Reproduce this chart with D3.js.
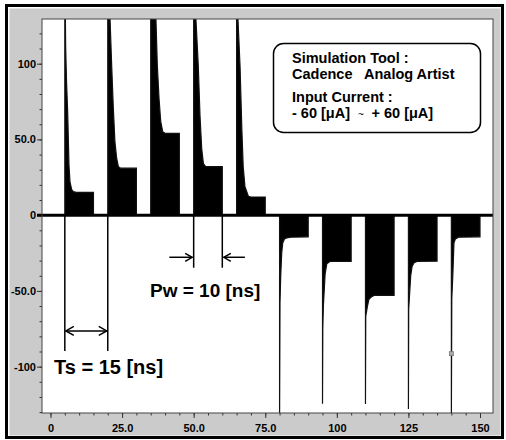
<!DOCTYPE html>
<html>
<head>
<meta charset="utf-8">
<script src="https://cdn.jsdelivr.net/npm/d3@7"></script>
<style>
  html, body { margin: 0; padding: 0; background: #fff; }
  svg { display: block; font-family: "Liberation Sans", Arial, sans-serif; }
</style>
</head>
<body>
<div id="chart"></div>
<script>
// tick values and labels
var xTickValues = [0, 25, 50, 75, 100, 125, 150];
var xTickLabels = ["0", "25.0", "50.0", "75.0", "100", "125", "150"];
var yTickValues = [-100, -50, 0, 50, 100];
var yTickLabels = ["-100", "-50.0", "0", "50.0", "100"];

// output waveform [time (ns), current]
var waveform = [
  [-3, 0],
  // +pulse 1
  [5, 0], [5, 165], [5.3, 110], [5.6, 88], [6.0, 68], [6.45, 33], [6.8, 22], [7.4, 16.8], [8.0, 15.5], [9, 15], [15, 15], [15, 0],
  // +pulse 2
  [20, 0], [20, 170], [20.8, 129], [21.36, 99], [21.94, 70.5], [22.5, 48.5], [23.1, 37.6], [23.7, 32], [24.5, 31], [30, 31], [30, 0],
  // +pulse 3
  [35, 0], [35, 175], [36.8, 131], [37.3, 99], [37.9, 77], [38.5, 61.7], [39.2, 55], [40, 54], [45, 54], [45, 0],
  // +pulse 4
  [50, 0], [50, 170], [50.8, 129], [51.6, 99], [52.2, 66], [52.8, 44], [53.4, 34], [54.2, 32], [60, 32], [60, 0],
  // +pulse 5
  [65, 0], [65, 165], [65.5, 128], [66.2, 98], [66.8, 58], [67.3, 32], [67.9, 19], [69.1, 12.5], [70, 12], [75, 12], [75, 0],
  // -pulse 1
  [80, 0], [80, -135], [80.15, -58], [80.4, -40], [80.75, -25], [81.1, -18.3], [81.7, -15.7], [82.5, -15], [84, -14.5], [90, -14.3], [90, 0],
  // -pulse 2
  [95, 0], [95, -124.5], [95.1, -75], [95.3, -60], [95.9, -39], [96.5, -32], [97.6, -30.6], [105, -30.5], [105, 0],
  // -pulse 3
  [110, 0], [110, -124.7], [110.1, -66.6], [110.7, -60], [111.2, -55.6], [112.2, -53.8], [113, -53], [120, -53], [120, 0],
  // -pulse 4
  [125, 0], [125, -128], [125.1, -62], [125.3, -55.6], [125.8, -40], [126.3, -33.7], [127, -31.4], [128, -30.5], [135, -30.4], [135, 0],
  // -pulse 5
  [140, 0], [140, -135], [140.15, -55], [140.5, -40], [140.9, -18.3], [141.4, -15.7], [142.5, -14.5], [150, -14.3], [150, 0],
  [155, 0]
];

// annotation: [t, v] marks
var tsLines = [5, 20];
var pwLines = [50, 60];
var probePoint = [140, -91.4];

var legendLines = ["Simulation Tool :", "Cadence   Analog Artist", "Input Current :"];
var legendRange = ["- 60 [\u03BCA]", "~", "+ 60 [\u03BCA]"];

var W = 506, H = 440;
var plot = {left: 42, top: 19, right: 493, bottom: 413};

var svg = d3.select("#chart").append("svg")
  .attr("width", W)
  .attr("height", H);

// frame + grey panel
svg.append("rect")
  .attr("x", 6.5).attr("y", 5.5)
  .attr("width", 496).attr("height", 432)
  .attr("fill", "#fff")
  .attr("stroke", "#000")
  .attr("stroke-width", 3);
svg.append("rect")
  .attr("x", 9.5).attr("y", 8.5)
  .attr("width", 491).attr("height", 427)
  .attr("fill", "#cbcbcb");

var x = d3.scaleLinear().domain([-2.97, 154.54]).range([plot.left, plot.right]);
var y = d3.scaleLinear().domain([-130.6, 129.5]).range([plot.bottom, plot.top]);

svg.append("rect")
  .attr("x", plot.left).attr("y", plot.top)
  .attr("width", plot.right - plot.left)
  .attr("height", plot.bottom - plot.top)
  .attr("fill", "#fff");

svg.append("clipPath").attr("id", "clip")
  .append("rect")
  .attr("x", plot.left).attr("y", plot.top)
  .attr("width", plot.right - plot.left)
  .attr("height", plot.bottom - plot.top);

// axes
function styleAxis(g) {
  g.select(".domain").remove();
  g.selectAll("line").attr("stroke", "#333");
  g.selectAll("text")
    .attr("fill", "#000")
    .attr("font-size", "11px")
    .attr("font-weight", "bold")
    .attr("font-family", "'Liberation Sans', Arial, sans-serif");
}

svg.append("g")
  .attr("transform", "translate(0," + plot.bottom + ")")
  .call(d3.axisBottom(x).tickValues(d3.range(0, 155, 5)).tickSize(2.5).tickFormat(""))
  .call(styleAxis);
svg.append("g")
  .attr("transform", "translate(0," + plot.bottom + ")")
  .call(d3.axisBottom(x).tickValues(xTickValues).tickSize(5).tickPadding(6)
    .tickFormat(function(d, i) { return xTickLabels[i]; }))
  .call(styleAxis);

svg.append("g")
  .attr("transform", "translate(" + plot.left + ",0)")
  .call(d3.axisLeft(y).tickValues(d3.range(-130, 130, 10)).tickSize(2.5).tickFormat(""))
  .call(styleAxis);
svg.append("g")
  .attr("transform", "translate(" + plot.left + ",0)")
  .call(d3.axisLeft(y).tickValues(yTickValues).tickSize(5).tickPadding(1)
    .tickFormat(function(d, i) { return yTickLabels[i]; }))
  .call(styleAxis);

// waveform
var focus = svg.append("g").attr("clip-path", "url(#clip)");

var area = d3.area()
  .x(function(d) { return x(d[0]); })
  .y0(y(0))
  .y1(function(d) { return y(d[1]); });
var line = d3.line()
  .x(function(d) { return x(d[0]); })
  .y(function(d) { return y(d[1]); });

focus.append("path")
  .datum(waveform)
  .attr("d", area)
  .attr("fill", "#000");
focus.append("path")
  .datum(waveform)
  .attr("d", line)
  .attr("fill", "none")
  .attr("stroke", "#111")
  .attr("stroke-width", 1.2);

// zero line
svg.append("line")
  .attr("x1", plot.left - 5).attr("x2", plot.right)
  .attr("y1", y(0)).attr("y2", y(0))
  .attr("stroke", "#000")
  .attr("stroke-width", 3);

// plot frame
svg.append("rect")
  .attr("x", plot.left).attr("y", plot.top)
  .attr("width", plot.right - plot.left)
  .attr("height", plot.bottom - plot.top)
  .attr("fill", "none")
  .attr("stroke", "#444")
  .attr("stroke-width", 1);

// probe marker
svg.append("rect")
  .attr("x", x(probePoint[0]) - 2).attr("y", y(probePoint[1]) - 2)
  .attr("width", 4).attr("height", 4)
  .attr("fill", "#aaa")
  .attr("stroke", "#777")
  .attr("stroke-width", 0.8);

// annotations
var ann = svg.append("g")
  .attr("stroke", "#000")
  .attr("stroke-width", 1.5)
  .attr("fill", "none");

tsLines.forEach(function(t) {
  ann.append("line")
    .attr("x1", x(t)).attr("x2", x(t))
    .attr("y1", y(0)).attr("y2", y(-89.6));
});
pwLines.forEach(function(t) {
  ann.append("line")
    .attr("x1", x(t)).attr("x2", x(t))
    .attr("y1", y(0)).attr("y2", y(-34.7));
});

function arrowHead(g, tipX, tipY, dir, len, half) {
  g.append("path")
    .attr("d", "M" + (tipX - dir * len) + "," + (tipY - half) +
      "L" + tipX + "," + tipY +
      "L" + (tipX - dir * len) + "," + (tipY + half));
}

// Ts double arrow
var tsY = y(-76.4);
ann.append("line")
  .attr("x1", x(tsLines[0]) + 1).attr("x2", x(tsLines[1]) - 1)
  .attr("y1", tsY).attr("y2", tsY);
arrowHead(ann, x(tsLines[0]) + 1, tsY, -1, 8, 4.5);
arrowHead(ann, x(tsLines[1]) - 1, tsY, 1, 8, 4.5);

// Pw inward arrows
var pwY = y(-27.8);
ann.append("line")
  .attr("x1", x(41.5)).attr("x2", x(pwLines[0]) - 1.5)
  .attr("y1", pwY).attr("y2", pwY);
arrowHead(ann, x(pwLines[0]) - 1.5, pwY, 1, 7, 4);
ann.append("line")
  .attr("x1", x(67.9)).attr("x2", x(pwLines[1]) + 1.5)
  .attr("y1", pwY).attr("y2", pwY);
arrowHead(ann, x(pwLines[1]) + 1.5, pwY, -1, 7, 4);

svg.append("text")
  .attr("x", 54).attr("y", 374)
  .attr("font-size", "20px")
  .attr("font-weight", "bold")
  .text("Ts = 15 [ns]");
svg.append("text")
  .attr("x", 150).attr("y", 297)
  .attr("font-size", "19px")
  .attr("font-weight", "bold")
  .text("Pw = 10 [ns]");

// legend box
var legend = svg.append("g").attr("transform", "translate(273,43)");
legend.append("rect")
  .attr("x", 0.5).attr("y", 0.5)
  .attr("width", 207).attr("height", 89)
  .attr("rx", 10).attr("ry", 10)
  .attr("fill", "#fff")
  .attr("stroke", "#000")
  .attr("stroke-width", 1.5);

var baselines = [19.5, 36, 59, 75];
legendLines.forEach(function(s, i) {
  legend.append("text")
    .attr("x", 19).attr("y", baselines[i])
    .attr("font-size", "14.5px")
    .attr("font-weight", "bold")
    .style("white-space", "pre")
    .text(s);
});
var rangeText = legend.append("text")
  .attr("x", 19).attr("y", baselines[3])
  .attr("font-size", "14.5px")
  .attr("font-weight", "bold")
  .style("white-space", "pre");
rangeText.append("tspan").text(legendRange[0]);
rangeText.append("tspan").attr("x", 85).attr("font-size", "10px").attr("font-weight", "normal").text(legendRange[1]);
rangeText.append("tspan").attr("x", 98.5).text(legendRange[2]);
</script>
</body>
</html>
